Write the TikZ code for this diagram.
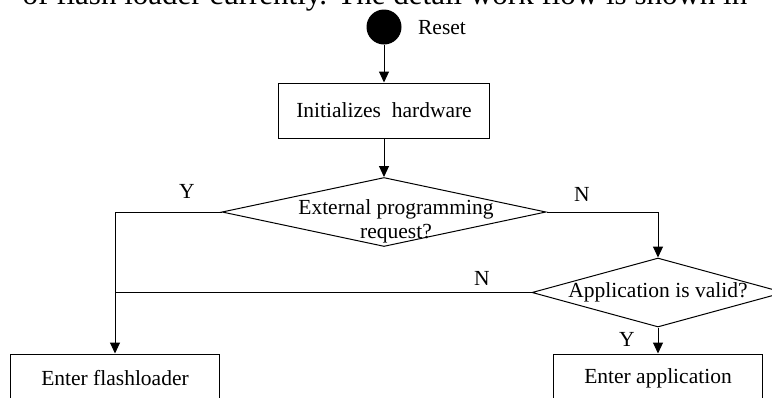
\documentclass[tikz,border=0pt]{standalone}
\usepackage{fontspec}
\setmainfont{Liberation Serif}
\usetikzlibrary{arrows.meta,shapes.geometric}

\begin{document}
\begin{tikzpicture}[x=1pt,y=-1pt,>={Triangle[length=11pt,width=10pt]},line width=1pt,
  font=\fontsize{21.5}{23}\selectfont,
  box/.style={draw,rectangle,minimum width=209pt,minimum height=48pt,inner sep=0pt},
  decision/.style={draw,diamond,inner sep=0pt,minimum height=69pt},
  txt/.style={inner sep=0pt,align=center}]
\useasboundingbox (0,0) rectangle (772,397);
\clip (0,0) rectangle (772,397);
% cut-off line of the surrounding text
\node[anchor=base,inner sep=0pt,font=\fontsize{31}{31}\selectfont] (prose) at (385,4) {of flash loader currently. The detail work flow is shown in};
% start
\node[circle,fill,minimum size=35pt,inner sep=0pt] (reset) at (384,27) {};
\node[txt] (resettxt) at (442,28) {Reset};
\node[box,minimum width=211pt,minimum height=55pt] (init) at (384,110.5) {Initializes\ \ hardware};
% decisions
\node[decision,minimum width=324pt] (req) at (384,212) {};
\node[txt,font=\fontsize{21.5}{24}\selectfont] (reqtxt) at (396,221) {External programming\\request?};
\node[decision,minimum width=252pt] (valid) at (658,292.5) {};
\node[txt] (validtxt) at (658,292) {Application is valid?};
% ends
\node[box] (flash) at (115,378) {Enter flashloader};
\node[box] (app) at (658,378) {Enter application};
\draw[->] (reset) -- (init);
\draw[->] (init) -- (req);
\draw[->] (req.west) -| (flash.north);
\draw[->] (req.east) -| (valid.north);
\draw (valid.west) -- (valid.west -| flash.north);
\draw[->] (valid) -- (app);
\node (y1) at (187,191) {Y};
\node (n1) at (582,194) {N};
\node (n2) at (482,278) {N};
\node (y2) at (627,339) {Y};
\end{tikzpicture}
\end{document}
